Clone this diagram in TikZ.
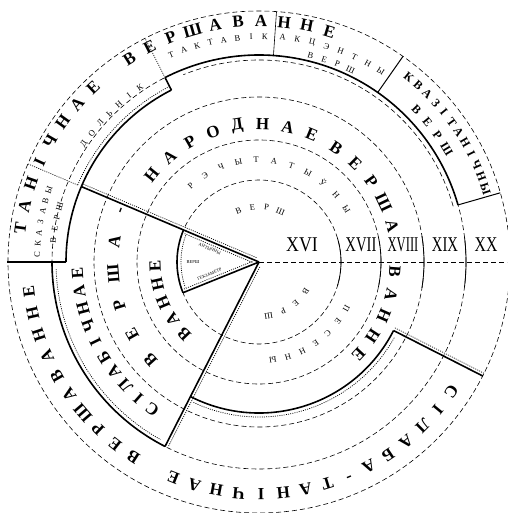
\documentclass[tikz,border=0pt]{standalone}
\usepackage{fontspec}
\setmainfont{Liberation Serif}
\usetikzlibrary{positioning}

\begin{document}
\begin{tikzpicture}[x=1pt,y=1pt]

\tikzset{ring/.style = {dash pattern=on 5pt off 3pt, line width=0.6pt}}
\tikzset{bound/.style = {line width=1.6pt}}
\tikzset{hatch/.style = {dash pattern=on 1pt off 1.2pt, line width=0.7pt}}
\tikzset{big/.style = {font=\fontsize{17}{17}\selectfont\bfseries, inner sep=0pt}}
\tikzset{mid/.style = {font=\fontsize{12}{12}\selectfont\bfseries, inner sep=0pt}}
\tikzset{sub/.style = {font=\fontsize{8.5}{8.5}\selectfont, inner sep=0pt}}
\tikzset{tiny/.style = {font=\fontsize{4.5}{4.5}\selectfont, inner sep=0pt}}
\tikzset{cent/.style = {font=\fontsize{21}{21}\selectfont, inner sep=0pt}}

\useasboundingbox (0,0) rectangle (507,513);
\coordinate (C) at (259,251);

\begin{scope}[shift={(C)}]
% rings = centuries
\foreach \r in {82,122,165,207,251} \draw[ring] (0,0) circle[radius=\r];
\draw[ring] (0,0) -- (248,0);
\foreach \r/\a in {82/17,122/12,165/9,207/7}
  \draw[line width=0.8pt] (-\a:\r) arc[start angle=-\a, end angle=\a, radius=\r];

% boundaries
\draw[bound] (117:193) arc[start angle=117, end angle=180, radius=193];
\draw[hatch] (117:197) arc[start angle=117, end angle=157, radius=197];
\draw[bound] (117:193) -- (117:207);
\draw[bound] (16:207) arc[start angle=16, end angle=117, radius=207];
\draw[ring] (16:202) arc[start angle=16, end angle=112, radius=202];
\draw[bound] (180:193) -- (180:252);
\draw[bound] (180:207) arc[start angle=180, end angle=243, radius=207];
\draw[hatch] (182:203) arc[start angle=182, end angle=241, radius=203];
\draw[bound] (243:151) arc[start angle=243, end angle=333, radius=151];
\draw[hatch] (245:155) arc[start angle=245, end angle=331, radius=155];
\draw[bound] (157:82) arc[start angle=157, end angle=202, radius=82];
\draw[hatch] (160:78) arc[start angle=160, end angle=199, radius=78];

% radial lines
\begin{scope}[rotate=157]
  \draw[bound] (0,0) -- (193,0);
  \draw[hatch] (4,-3) -- (193,-3);
  \draw[hatch] (6,3) -- (80,3);
  \draw[hatch] (197,0) -- (251,0);
\end{scope}
\begin{scope}[rotate=243]
  \draw[bound] (0,0) -- (207,0);
  \draw[hatch] (4,3) -- (205,3);
\end{scope}
\begin{scope}[rotate=202]
  \draw[bound] (0,0) -- (82,0);
  \draw[hatch] (6,-3) -- (80,-3);
\end{scope}
\begin{scope}[rotate=-27]
  \draw[bound] (151,0) -- (251,0);
  \draw[hatch] (151,3) -- (251,3);
\end{scope}
\draw[hatch] (117:207) -- (117:251);
\draw[line width=0.6pt] (86:207) -- (86:251);
\draw[line width=1pt] (55:207) -- (55:251);
\draw[line width=1pt] (16:207) -- (16:251);

% centuries
\node[cent, xscale=0.85] (c16) at (43,17) {XVI};
\node[cent, xscale=0.7] (c17) at (102,17) {XVII};
\node[cent, xscale=0.6] (c18) at (144,17) {XVIII};
\node[cent, xscale=0.7] (c19) at (186,17) {XIX};
\node[cent, xscale=0.75] (c20) at (227,17) {XX};

% outer band
\foreach \ch [count=\i from 0] in {Т,А,Н,І,Ч,Н,А,Е}
  {\pgfmathsetmacro\a{172-5.5*\i}
   \node[big, rotate=\a-90] (ta\i) at (\a:241) {\ch};}
\foreach \ch [count=\i from 0] in {В,Е,Р,Ш,А,В,А,Н,Н,Е}
  {\pgfmathsetmacro\a{122.5-5.5*\i}
   \node[big, rotate=\a-90] (tb\i) at (\a:241) {\ch};}
\foreach \ch [count=\i from 0] in {Д,О,Л,Ь,Н,І,К}
  {\pgfmathsetmacro\a{146-3.6*\i}
   \node[sub, rotate=\a-90] (dl\i) at (\a:211) {\ch};}
\foreach \ch [count=\i from 0] in {Т,А,К,Т,А,В,І,К}
  {\pgfmathsetmacro\a{113-3.5*\i}
   \node[sub, rotate=\a-90] (tk\i) at (\a:225) {\ch};}
\foreach \ch [count=\i from 0] in {А,К,Ц,Э,Н,Т,Н,Ы}
  {\pgfmathsetmacro\a{84-3.8*\i}
   \node[sub, rotate=\a-90] (ak\i) at (\a:226) {\ch};}
\foreach \ch [count=\i from 0] in {В,Е,Р,Ш}
  {\pgfmathsetmacro\a{76-3.8*\i}
   \node[sub, rotate=\a-90] (av\i) at (\a:213) {\ch};}
\foreach \ch [count=\i from 0] in {К,В,А,З,І,Т,А,Н,І,Ч,Н,Ы}
  {\pgfmathsetmacro\a{51-3*\i}
   \node[mid, rotate=\a-90] (kv\i) at (\a:238) {\ch};}
\foreach \ch [count=\i from 0] in {В,Е,Р,Ш}
  {\pgfmathsetmacro\a{44-4.3*\i}
   \node[mid, rotate=\a-90] (kw\i) at (\a:219) {\ch};}
\foreach \ch [count=\i from 0] in {С,К,А,З,А,В,Ы}
  {\pgfmathsetmacro\a{178-2.8*\i}
   \node[sub, rotate=\a-90] (sk\i) at (\a:222) {\ch};}
\foreach \ch [count=\i from 0] in {В,Е,Р,Ш}
  {\pgfmathsetmacro\a{174-3.2*\i}
   \node[sub, rotate=\a-90] (sw\i) at (\a:207) {\ch};}

% lower band
\foreach \ch [count=\i from 0] in {С,І,Л,А,Б,А,-,Т,А,Н,І,Ч,Н,А,Е}
  {\pgfmathsetmacro\a{326-5.55*\i}
   \node[big, rotate=\a-90] (sa\i) at (\a:232) {\ch};}
\foreach \ch [count=\i from 0] in {В,Е,Р,Ш,А,В,А,Н,Н,Е}
  {\pgfmathsetmacro\a{237.2-5.55*\i}
   \node[big, rotate=\a-90] (sb\i) at (\a:232) {\ch};}

% syllabic sector
\foreach \ch [count=\i from 0] in {С,І,Л,А,Б,І,Ч,Н,А,Е}
  {\pgfmathsetmacro\a{234-5.6*\i}
   \node[big, rotate=\a-90] (sl\i) at (\a:182) {\ch};}
\foreach \ch [count=\i from 0] in {В,Е,Р,Ш,А,-}
  {\pgfmathsetmacro\a{222-12.5*\i}
   \node[big, rotate=\a-90] (sv\i) at (\a:146) {\ch};}
\foreach \ch [count=\i from 0] in {В,А,Н,Н,Е}
  {\pgfmathsetmacro\a{224-10.5*\i}
   \node[big, rotate=\a-90] (sn\i) at (\a:104) {\ch};}
\node[tiny, rotate=-23] (w1) at (165:51) {АНТЫЧНЫ};
\node[tiny] (w2) at (180:66) {ВЕРШ};
\node[tiny, rotate=22] (w3) at (194:51) {ГЕКЗАМЕТР};

% folk verse
\foreach \ch [count=\i from 0] in {Н,А,Р,О,Д,Н,А,Е}
  {\pgfmathsetmacro\a{141-10.5*\i}
   \node[big, rotate=\a-90] (na\i) at (\a:138) {\ch};}
\foreach \ch [count=\i from 0] in {В,Е,Р,Ш,А}
  {\pgfmathsetmacro\a{56-10.2*\i}
   \node[big, rotate=\a-90] (nb\i) at (\a:138) {\ch};}
\foreach \ch [count=\i from 0] in {В,А,Н,Н,Е}
  {\pgfmathsetmacro\a{-4-9.75*\i}
   \node[big, rotate=\a-90] (nc\i) at (\a:136) {\ch};}
\foreach \ch [count=\i from 0] in {Р,Э,Ч,Ы,Т,А,Т,Ы,Ў,Н,Ы}
  {\pgfmathsetmacro\a{132-10.1*\i}
   \node[sub, rotate=\a-90] (rc\i) at (\a:102) {\ch};}
\foreach \ch [count=\i from 0] in {П,Е,С,Е,Н,Н,Ы}
  {\pgfmathsetmacro\a{-28-9*\i}
   \node[sub, rotate=\a-90] (ps\i) at (\a:99) {\ch};}
\foreach \ch [count=\i from 0] in {В,Е,Р,Ш}
  {\pgfmathsetmacro\a{112-15*\i}
   \node[sub, rotate=\a-90] (vr\i) at (\a:55) {\ch};}
\foreach \ch [count=\i from 0] in {В,Е,Р,Ш}
  {\pgfmathsetmacro\a{-32-16*\i}
   \node[sub, rotate=\a-90] (vl\i) at (\a:55) {\ch};}
\end{scope}

\end{tikzpicture}
\end{document}
